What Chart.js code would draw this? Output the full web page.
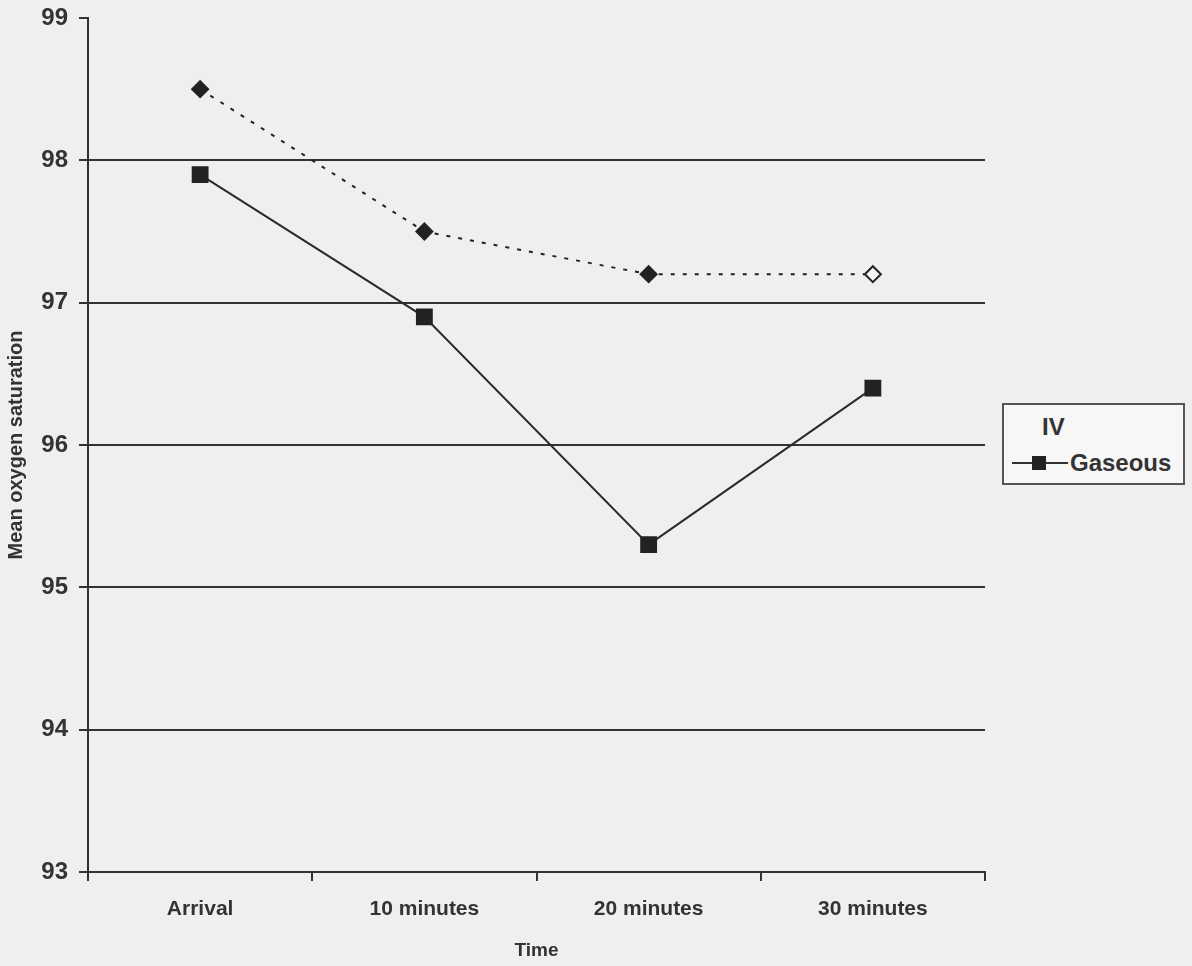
<!DOCTYPE html>
<html>
<head>
<meta charset="utf-8">
<script src="https://cdn.jsdelivr.net/npm/chart.js@4"></script>
<style>
  html, body { margin: 0; padding: 0; background: #efefef; }
  #wrap { position: relative; width: 1192px; height: 966px; }
  #legend {
    position: absolute; left: 1002px; top: 403px; width: 183px; height: 82px;
    border: 2px solid #555; box-sizing: border-box; background: #f7f7f7;
    font: bold 24px "Liberation Sans", Arial, sans-serif; color: #333;
  }
  #legend .row { position: absolute; left: 0; display: flex; align-items: center; }
  #legend .sym { width: 64px; height: 20px; position: relative; margin-right: 2px; }
  #legend .sym:before { content: ''; position: absolute; left: 8px; right: 0; top: 9px; border-top: 2px solid #333; }
  #legend .sym:after { content: ''; position: absolute; left: 28px; top: 3px; width: 14px; height: 14px; background: #222; }
</style>
</head>
<body>
<div id="wrap">
  <canvas id="grafica" width="1192" height="966"></canvas>
  <div id="legend">
    <div class="row" style="left:38px; top:8px;">IV</div>
    <div class="row" style="top:44px;"><span class="sym"></span>Gaseous</div>
  </div>
</div>
<script>
const categorias = ['Arrival', '10 minutes', '20 minutes', '30 minutes'];
const iv = [98.5, 97.5, 97.2, 97.2];
const gaseoso = [97.9, 96.9, 95.3, 96.4];
const ticksY = [93, 94, 95, 96, 97, 98, 99];

const fuente = '"Liberation Sans", Arial, sans-serif';
const ctx = document.getElementById('grafica').getContext('2d');

const grafica = new Chart(ctx, {
  type: 'line',
  data: {
    labels: categorias,
    datasets: [{
      label: 'IV',
      data: iv,
      borderColor: '#222',
      borderWidth: 2,
      borderDash: [4, 8],
      pointStyle: 'rectRot',
      pointRadius: 8,
      pointBorderWidth: 2,
      pointBackgroundColor: ['#222', '#222', '#222', '#f4f4f4'],
      pointBorderColor: '#222',
      tension: 0
    }, {
      label: 'Gaseous',
      data: gaseoso,
      borderColor: '#2a2a2a',
      borderWidth: 2,
      pointStyle: 'rect',
      pointRadius: 10.5,
      pointBackgroundColor: '#222',
      pointBorderColor: '#222',
      tension: 0
    }]
  },
  options: {
    responsive: false,
    animation: false,
    layout: { padding: { top: 18, right: 207, left: 0, bottom: 0 } },
    plugins: {
      legend: { display: false },
      tooltip: { enabled: false }
    },
    scales: {
      x: {
        offset: true,
        grid: { display: true, drawOnChartArea: false, offset: true, color: '#333', lineWidth: 2, tickLength: 9 },
        border: { color: '#333', width: 2 },
        ticks: { color: '#333', font: { family: fuente, size: 21, weight: 'bold' }, padding: 16 },
        title: { display: true, text: 'Time', color: '#333', font: { family: fuente, size: 19, weight: 'bold' }, padding: { top: 8 } },
        afterFit: s => { s.height = 94; }
      },
      y: {
        min: 93,
        max: 99,
        afterBuildTicks: s => { s.ticks = ticksY.map(v => ({ value: v })); },
        grid: {
          color: c => (c.tick && (c.tick.value === 99) ? 'rgba(0,0,0,0)' : '#333'),
          lineWidth: 2,
          tickLength: 9,
          tickColor: '#333'
        },
        border: { color: '#333', width: 2 },
        ticks: { color: '#333', font: { family: fuente, size: 24, weight: 'bold' }, padding: 11 },
        title: { display: true, text: 'Mean oxygen saturation', color: '#333', font: { family: fuente, size: 20, weight: 'bold' }, padding: { bottom: 2 } },
        afterFit: s => { s.width = 88; s.paddingTop = 0; s.paddingBottom = 0; }
      }
    }
  }
});
</script>
</body>
</html>
